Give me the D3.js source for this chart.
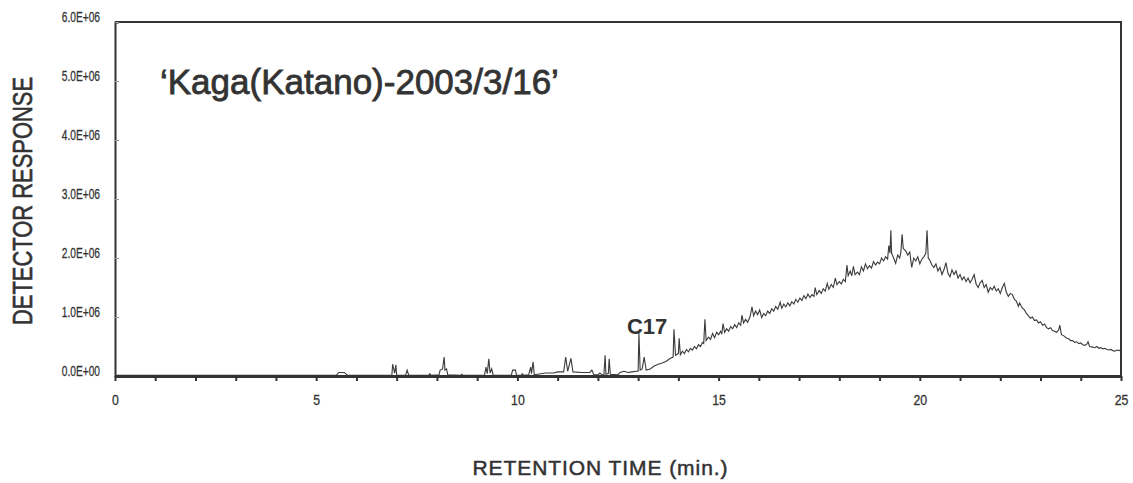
<!DOCTYPE html>
<html>
<head>
<meta charset="utf-8">
<script src="https://cdn.jsdelivr.net/npm/d3@7"></script>
<style>
  body { margin: 0; background: #fff; }
  svg { display: block; font-family: "Liberation Sans", Arial, sans-serif; }
</style>
</head>
<body>
<div id="chart"></div>
<script>
// Chromatogram trace: [retention time (min), detector response (x 1E+06)]
const trace = [
  [0, 0.01], [5.5, 0.01], [5.56, 0.06], [5.7, 0.06], [5.78, 0.01],
  [6.88, 0.01], [6.9, 0.2], [6.95, 0.05], [6.98, 0.19], [7.0, 0.01],
  [7.22, 0.01], [7.26, 0.1], [7.3, 0.01],
  [7.8, 0.01], [7.82, 0.04], [7.86, 0.01],
  [8.05, 0.02], [8.08, 0.1], [8.14, 0.12], [8.18, 0.32], [8.2, 0.1], [8.24, 0.12], [8.27, 0.02],
  [8.6, 0.01], [8.62, 0.03], [8.65, 0.01],
  [9.18, 0.01], [9.22, 0.15], [9.25, 0.04], [9.29, 0.29], [9.32, 0.05], [9.36, 0.12], [9.4, 0.01],
  [9.6, 0.01], [9.85, 0.01], [9.88, 0.1], [9.95, 0.1], [9.98, 0.01],
  [10.1, 0.01], [10.12, 0.04], [10.16, 0.01],
  [10.28, 0.02], [10.33, 0.15], [10.35, 0.04], [10.39, 0.24], [10.42, 0.02],
  [10.5, 0.03], [10.7, 0.05], [10.9, 0.05], [11.0, 0.07], [11.15, 0.07], [11.2, 0.32], [11.25, 0.08],
  [11.33, 0.3], [11.38, 0.07], [11.6, 0.06], [11.8, 0.06], [11.85, 0.1], [11.9, 0.02], [12.0, 0.02],
  [12.05, 0.05], [12.1, 0.02], [12.15, 0.02], [12.18, 0.35], [12.2, 0.03], [12.26, 0.04], [12.28, 0.29],
  [12.31, 0.03], [12.5, 0.02], [12.55, 0.06], [12.65, 0.08], [12.75, 0.06], [12.85, 0.07], [12.95, 0.08],
  [13.0, 0.08], [13.02, 0.73], [13.05, 0.1], [13.1, 0.12], [13.15, 0.32], [13.2, 0.1], [13.3, 0.12],
  [13.4, 0.17], [13.5, 0.2], [13.6, 0.22], [13.7, 0.25], [13.8, 0.3], [13.87, 0.32], [13.89, 0.79],
  [13.93, 0.35], [14.0, 0.38], [14.02, 0.64],
  [14.05, 0.36], [14.1, 0.42], [14.15, 0.38], [14.2, 0.45], [14.25, 0.41], [14.3, 0.47], [14.35, 0.44],
  [14.4, 0.5], [14.45, 0.46], [14.5, 0.53], [14.55, 0.5], [14.6, 0.57], [14.63, 0.55], [14.66, 0.96],
  [14.69, 0.6], [14.75, 0.66], [14.8, 0.62], [14.85, 0.72], [14.9, 0.65], [14.95, 0.74], [15.0, 0.7],
  [15.05, 0.76], [15.08, 0.71], [15.11, 0.89], [15.15, 0.74], [15.2, 0.8], [15.25, 0.76], [15.3, 0.84],
  [15.35, 0.8], [15.4, 0.87], [15.45, 0.82], [15.5, 0.9], [15.55, 0.86], [15.58, 1.03], [15.62, 0.9],
  [15.67, 0.96], [15.72, 0.91], [15.78, 1.0], [15.83, 1.17], [15.87, 1.02], [15.92, 1.1], [15.97, 1.04],
  [16.02, 1.12], [16.07, 0.99], [16.12, 1.06], [16.17, 1.02], [16.22, 1.1], [16.27, 1.06], [16.32, 1.14],
  [16.37, 1.1], [16.42, 1.18], [16.47, 1.13], [16.53, 1.25], [16.57, 1.15], [16.62, 1.22], [16.67, 1.17],
  [16.72, 1.24], [16.77, 1.19], [16.82, 1.26], [16.87, 1.22], [16.92, 1.3], [16.97, 1.25], [17.02, 1.32],
  [17.07, 1.28], [17.12, 1.36], [17.17, 1.31], [17.22, 1.39], [17.27, 1.33], [17.32, 1.38], [17.37, 1.35],
  [17.4, 1.5], [17.44, 1.38], [17.5, 1.45], [17.55, 1.4], [17.6, 1.48], [17.65, 1.44], [17.7, 1.57],
  [17.74, 1.47], [17.8, 1.55], [17.85, 1.5], [17.9, 1.66], [17.94, 1.55], [18.0, 1.6], [18.05, 1.56],
  [18.1, 1.64], [18.15, 1.6], [18.19, 1.88], [18.22, 1.7], [18.27, 1.78], [18.31, 1.7], [18.35, 1.86],
  [18.39, 1.72], [18.45, 1.76], [18.5, 1.72], [18.55, 1.85], [18.6, 1.78], [18.65, 1.9], [18.7, 1.82],
  [18.75, 1.87], [18.8, 1.83], [18.85, 1.94], [18.9, 1.88], [18.95, 1.93], [19.0, 1.9], [19.05, 2.0],
  [19.1, 1.95], [19.15, 2.02], [19.2, 1.98], [19.23, 2.21], [19.26, 2.08], [19.28, 2.47], [19.3, 2.08],
  [19.35, 2.0], [19.4, 1.91], [19.45, 2.05], [19.5, 2.0], [19.53, 2.1], [19.56, 2.4], [19.59, 2.16],
  [19.65, 2.12], [19.7, 2.05], [19.75, 2.1], [19.8, 1.84], [19.85, 2.0], [19.9, 1.95], [19.95, 2.02],
  [20.0, 1.9], [20.05, 1.98], [20.1, 2.02], [20.15, 2.08], [20.18, 2.47], [20.21, 2.0], [20.25, 1.96],
  [20.3, 1.88], [20.35, 1.84], [20.4, 1.9], [20.45, 1.78], [20.5, 1.84], [20.55, 1.72], [20.6, 1.8],
  [20.65, 1.92], [20.7, 1.74], [20.75, 1.68], [20.8, 1.8], [20.85, 1.72], [20.9, 1.78], [20.95, 1.66],
  [21.0, 1.72], [21.05, 1.63], [21.1, 1.68], [21.15, 1.6], [21.2, 1.66], [21.25, 1.58], [21.3, 1.64],
  [21.35, 1.72], [21.4, 1.56], [21.45, 1.5], [21.5, 1.58], [21.55, 1.62], [21.6, 1.5], [21.65, 1.55],
  [21.7, 1.42], [21.75, 1.5], [21.8, 1.46], [21.85, 1.52], [21.9, 1.44], [21.95, 1.48], [22.0, 1.4],
  [22.05, 1.5], [22.1, 1.57], [22.15, 1.42], [22.2, 1.35], [22.25, 1.4], [22.3, 1.38], [22.35, 1.3],
  [22.4, 1.27], [22.45, 1.18], [22.48, 1.24], [22.51, 1.2], [22.55, 1.15], [22.6, 1.12], [22.65, 1.06],
  [22.7, 1.02], [22.75, 0.98], [22.8, 1.0], [22.85, 0.94], [22.9, 0.95], [22.95, 0.9], [23.0, 0.92],
  [23.05, 0.86], [23.1, 0.88], [23.15, 0.82], [23.2, 0.8], [23.25, 0.82], [23.3, 0.77], [23.35, 0.76],
  [23.4, 0.74], [23.45, 0.78], [23.48, 0.86], [23.52, 0.7], [23.58, 0.68], [23.65, 0.64], [23.7, 0.63],
  [23.75, 0.6], [23.8, 0.6], [23.85, 0.57], [23.9, 0.58], [23.95, 0.55], [24.0, 0.56], [24.05, 0.53],
  [24.1, 0.52], [24.15, 0.54], [24.18, 0.58], [24.22, 0.5], [24.3, 0.49], [24.35, 0.48], [24.4, 0.5],
  [24.45, 0.47], [24.5, 0.48], [24.55, 0.46], [24.6, 0.47], [24.65, 0.45], [24.7, 0.44], [24.75, 0.45],
  [24.8, 0.43], [24.85, 0.42], [24.9, 0.44], [24.95, 0.43], [25.0, 0.45]
];

const xTicks = [0, 5, 10, 15, 20, 25];
const xMinorTicks = d3.range(0, 26);
const yTicks = [0, 1, 2, 3, 4, 5, 6];
const yTickLabels = ['0.0E+00', '1.0E+06', '2.0E+06', '3.0E+06', '4.0E+06', '5.0E+06', '6.0E+06'];
const peakLabel = ['C17', 13.02, 0.73];
const sampleTitle = '\u2018Kaga(Katano)-2003/3/16\u2019';

const width = 1133;
const height = 483;
const margin = { top: 22, right: 11, bottom: 107, left: 115 };
const ink = '#333';

// squeeze text horizontally, the original uses a narrow face
function squeeze(sel, k) {
  sel.each(function () {
    const w = this.getComputedTextLength();
    d3.select(this).attr('textLength', w * k).attr('lengthAdjust', 'spacingAndGlyphs');
  });
}

function drawChart() {
  const svg = d3.select('#chart').append('svg')
    .attr('width', width)
    .attr('height', height);

  const x = d3.scaleLinear().domain([0, 25]).range([margin.left, width - margin.right - 1]);
  const y = d3.scaleLinear().domain([0, 6]).range([height - margin.bottom, margin.top]);

  // frame: top and right borders
  svg.append('path')
    .attr('d', `M${x(0)},${y(6)}H${x(25)}V${y(0)}`)
    .attr('fill', 'none')
    .attr('stroke', ink)
    .attr('stroke-width', 2);

  // left axis
  const yAxis = svg.append('g')
    .attr('transform', `translate(${x(0)},0)`)
    .call(d3.axisLeft(y).tickValues(yTicks).tickSize(-4).tickFormat((d, i) => yTickLabels[i]));
  yAxis.select('.domain').attr('stroke', ink).attr('stroke-width', 2);
  yAxis.selectAll('.tick line').attr('stroke', '#999');
  yAxis.selectAll('.tick text')
    .attr('x', -15)
    .attr('dy', '-0.05em')
    .attr('fill', ink)
    .attr('stroke', ink)
    .attr('stroke-width', 0.3)
    .style('font-size', '15px');
  squeeze(yAxis.selectAll('.tick text'), 0.68);

  // trace
  const line = d3.line().x(d => x(d[0])).y(d => y(d[1]));
  svg.append('path')
    .datum(trace)
    .attr('d', line)
    .attr('fill', 'none')
    .attr('stroke', '#3a3a3a')
    .attr('stroke-width', 1.1);

  // bottom axis, drawn above the trace baseline
  const xAxis = svg.append('g')
    .attr('transform', `translate(0,${y(0)})`)
    .call(d3.axisBottom(x).tickValues(xMinorTicks).tickSize(5).tickSizeOuter(0)
      .tickFormat(d => xTicks.includes(d) ? d : ''));
  xAxis.select('.domain').attr('stroke', ink).attr('stroke-width', 3);
  xAxis.selectAll('.tick line').attr('stroke', ink).attr('stroke-width', 2);
  xAxis.selectAll('.tick text')
    .attr('y', 24)
    .attr('dy', '0.35em')
    .attr('fill', ink)
    .attr('stroke', ink)
    .attr('stroke-width', 0.3)
    .style('font-size', '15px');
  squeeze(xAxis.selectAll('.tick text'), 0.82);

  // axis titles
  svg.append('text')
    .attr('transform', `translate(32,${(y(0) + y(6)) / 2 + 2}) rotate(-90)`)
    .attr('text-anchor', 'middle')
    .attr('fill', ink)
    .attr('stroke', ink)
    .attr('stroke-width', 0.6)
    .attr('textLength', 248)
    .attr('lengthAdjust', 'spacingAndGlyphs')
    .style('font-size', '28px')
    .text('DETECTOR RESPONSE');

  svg.append('text')
    .attr('x', 600)
    .attr('y', 475)
    .attr('text-anchor', 'middle')
    .attr('fill', ink)
    .attr('stroke', ink)
    .attr('stroke-width', 0.5)
    .attr('textLength', 255)
    .attr('lengthAdjust', 'spacing')
    .style('font-size', '21px')
    .text('RETENTION TIME (min.)');

  // sample title inside the plot
  svg.append('text')
    .attr('x', 160)
    .attr('y', 94)
    .attr('fill', ink)
    .attr('stroke', ink)
    .attr('stroke-width', 0.8)
    .style('font-size', '35px')
    .text(sampleTitle);

  // peak label
  svg.append('text')
    .attr('x', x(peakLabel[1]) - 12)
    .attr('y', y(peakLabel[2]) + 1)
    .attr('fill', ink)
    .style('font-size', '22px')
    .style('font-weight', 'bold')
    .text(peakLabel[0]);
}

document.addEventListener('DOMContentLoaded', drawChart);
</script>
</body>
</html>
